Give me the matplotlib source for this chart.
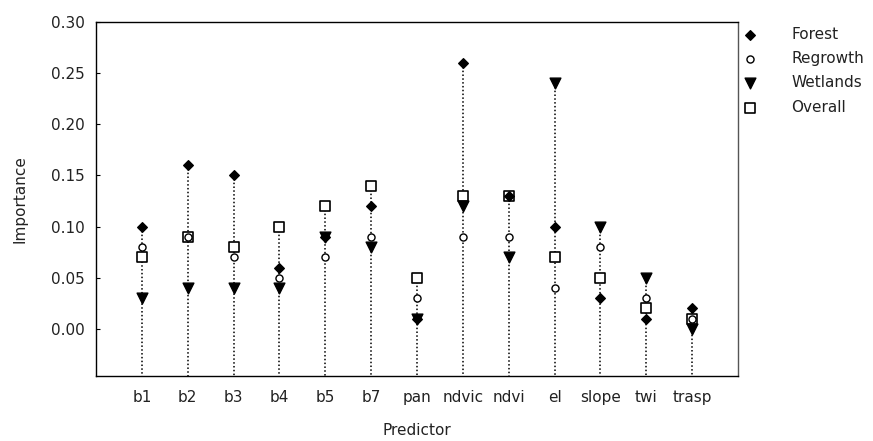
import numpy as np
import matplotlib.pyplot as plt

plt.rcParams['font.family'] = ['DejaVu Sans']

predictors = ['b1', 'b2', 'b3', 'b4', 'b5', 'b7', 'pan', 'ndvic', 'ndvi', 'el', 'slope', 'twi', 'trasp']
forest = [0.10, 0.16, 0.15, 0.06, 0.09, 0.12, 0.01, 0.26, 0.13, 0.10, 0.03, 0.01, 0.02]
regrowth = [0.08, 0.09, 0.07, 0.05, 0.07, 0.09, 0.03, 0.09, 0.09, 0.04, 0.08, 0.03, 0.01]
wetlands = [0.03, 0.04, 0.04, 0.04, 0.09, 0.08, 0.01, 0.12, 0.07, 0.24, 0.10, 0.05, 0.00]
overall = [0.07, 0.09, 0.08, 0.10, 0.12, 0.14, 0.05, 0.13, 0.13, 0.07, 0.05, 0.02, 0.01]

x = np.arange(1, len(predictors) + 1)
ymin = -0.046
txt = '#222222'
top = np.max([forest, regrowth, wetlands, overall], axis=0)

fig = plt.figure(figsize=(8.73, 4.41), dpi=100)
ax = fig.add_axes([96 / 873, 1 - 376 / 441, (738 - 96) / 873, (376 - 22) / 441])

# dotted drop line from the highest value down to the bottom
for xi, v in zip(x, top):
    ax.plot([xi, xi], [v, ymin], color='black', linestyle=(0, (1, 1.5)), linewidth=1.1, zorder=1)

ax.scatter(x, forest, marker='D', s=24, color='black', zorder=2.5, label='Forest')
ax.scatter(x, regrowth, marker='o', s=26, facecolor='white', edgecolor='black', linewidth=1, zorder=4, label='Regrowth')
ax.scatter(x, wetlands, marker='v', s=60, color='black', zorder=3, label='Wetlands')
ax.scatter(x, overall, marker='s', s=55, facecolor='white', edgecolor='black', linewidth=1.2, zorder=2, label='Overall')

ax.set_xlim(0, 14)
ax.set_ylim(ymin, 0.30)
yt = np.arange(0, 0.301, 0.05)
ax.set_yticks(yt)
ax.set_yticklabels([f'{v:.2f}' for v in yt])
ax.set_xticks(x)
ax.set_xticklabels(predictors)
ax.tick_params(axis='y', direction='in', length=3, labelsize=11, colors=txt, pad=8)
ax.tick_params(axis='y', color='black')
ax.tick_params(axis='x', length=0, labelsize=11, colors=txt, pad=10)
for sp in ax.spines.values():
    sp.set_color('black')
    sp.set_linewidth(1)
ax.spines['right'].set_color('#555555')

ax.set_ylabel('Importance', fontsize=11, color=txt, labelpad=17)
ax.set_xlabel('Predictor', fontsize=11, color=txt, labelpad=13)

ax.legend(loc='upper left', bbox_to_anchor=(0.986, 1.003), frameon=False, fontsize=11,
          handletextpad=1.66, labelspacing=0.6, borderaxespad=0, scatterpoints=1,
          labelcolor=txt)

fig.savefig('out.png', dpi=100)
